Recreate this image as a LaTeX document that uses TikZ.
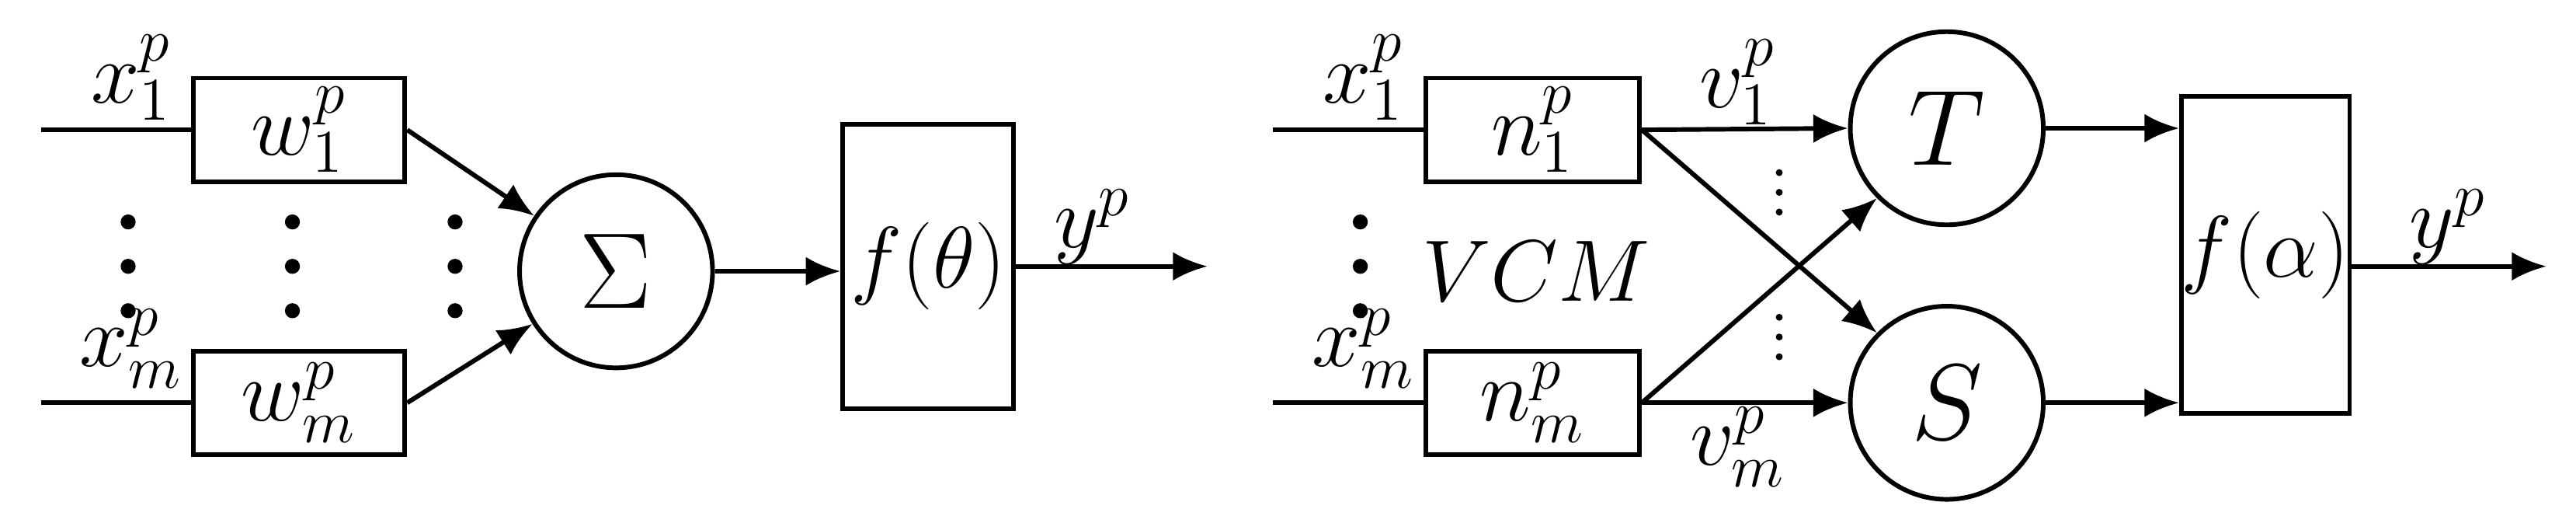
\documentclass[tikz,border=0pt]{standalone}
\usepackage{tikz}
\usetikzlibrary{arrows.meta,positioning}
\newcommand{\lbltext}[1]{\scalebox{1.75}{\LARGE #1}}
\newcommand{\unittext}[1]{\scalebox{1.5}{\Huge #1}}
\tikzset{
  box/.style={rectangle, draw, line width=1.6pt, inner sep=0pt},
  unit/.style={circle, draw, line width=1.6pt, minimum size=2.35cm, inner sep=0pt},
  line/.style={draw, line width=1.6pt},
  arr/.style={draw, line width=1.6pt, -{Latex[length=12pt,width=10pt]}}
}
\begin{document}
\begin{tikzpicture}[x=0.02cm, y=-0.02cm]
      \useasboundingbox (0,0) rectangle (1568,322);
      % left network
      \node [box, minimum width=2.58cm, minimum height=1.26cm] (w1) at (182,79) {\lbltext{$w_1^p$}};
      \node [box, minimum width=2.58cm, minimum height=1.26cm] (wm) at (182,245) {\lbltext{$w_m^p$}};
      \coordinate (in1) at (25,79);
      \coordinate (inm) at (25,245);
      \node [unit] (sum) at (375,165) {\unittext{$\Sigma$}};
      \node [box, minimum width=2.08cm, minimum height=3.46cm] (ftheta) at (565,162) {\lbltext{$f(\theta)$}};
      \coordinate (out1) at (735,162);
      \node at (80,47) {\lbltext{$x_1^p$}};
      \node at (80,212) {\lbltext{$x_m^p$}};
      \node at (665,138) {\lbltext{$y^p$}};
      \foreach \x in {78,178,277}
        \foreach \y in {135,162,189} \fill (\x,\y) circle (2.6pt);

      \path [line] (in1) -- (w1.west);
      \path [line] (inm) -- (wm.west);
      \path [arr] (w1.east) -- (sum);
      \path [arr] (wm.east) -- (sum);
      \path [arr] (sum) -- (ftheta.west |- sum);
      \path [arr] (ftheta.east |- out1) -- (out1);

      % right network
      \node [box, minimum width=2.6cm, minimum height=1.26cm] (n1) at (933,79) {\lbltext{$n_1^p$}};
      \node [box, minimum width=2.6cm, minimum height=1.26cm] (nm) at (933,245) {\lbltext{$n_m^p$}};
      \coordinate (in2) at (775,79);
      \coordinate (in2m) at (775,245);
      \node [unit] (T) at (1185,78) {\unittext{$T$}};
      \node [unit] (S) at (1185,245) {\unittext{$S$}};
      \node [box, minimum width=1.96cm, minimum height=3.86cm] (falpha) at (1379,155) {\lbltext{$f(\alpha)$}};
      \coordinate (out2) at (1550,162);
      \node at (830,47) {\lbltext{$x_1^p$}};
      \node at (830,212) {\lbltext{$x_m^p$}};
      \node at (935,165) {\lbltext{$VCM$}};
      \node at (1058,50) {\lbltext{$v_1^p$}};
      \node at (1058,272) {\lbltext{$v_m^p$}};
      \node at (1490,138) {\lbltext{$y^p$}};
      \foreach \y in {135,162,189} \fill (828,\y) circle (2.6pt);
      \foreach \y in {105,117,129,193,205,217} \fill (1083,\y) circle (1.2pt);

      \path [line] (in2) -- (n1.west);
      \path [line] (in2m) -- (nm.west);
      \path [arr] (n1.east) -- (T.west);
      \path [arr] (nm.east) -- (S.west);
      \path [arr] (n1.east) -- (S.north west);
      \path [arr] (nm.east) -- (T.south west);
      \path [arr] (T.east) -- (falpha.west |- T);
      \path [arr] (S.east) -- (falpha.west |- S);
      \path [arr] (falpha.east |- out2) -- (out2);
\end{tikzpicture}
\end{document}
